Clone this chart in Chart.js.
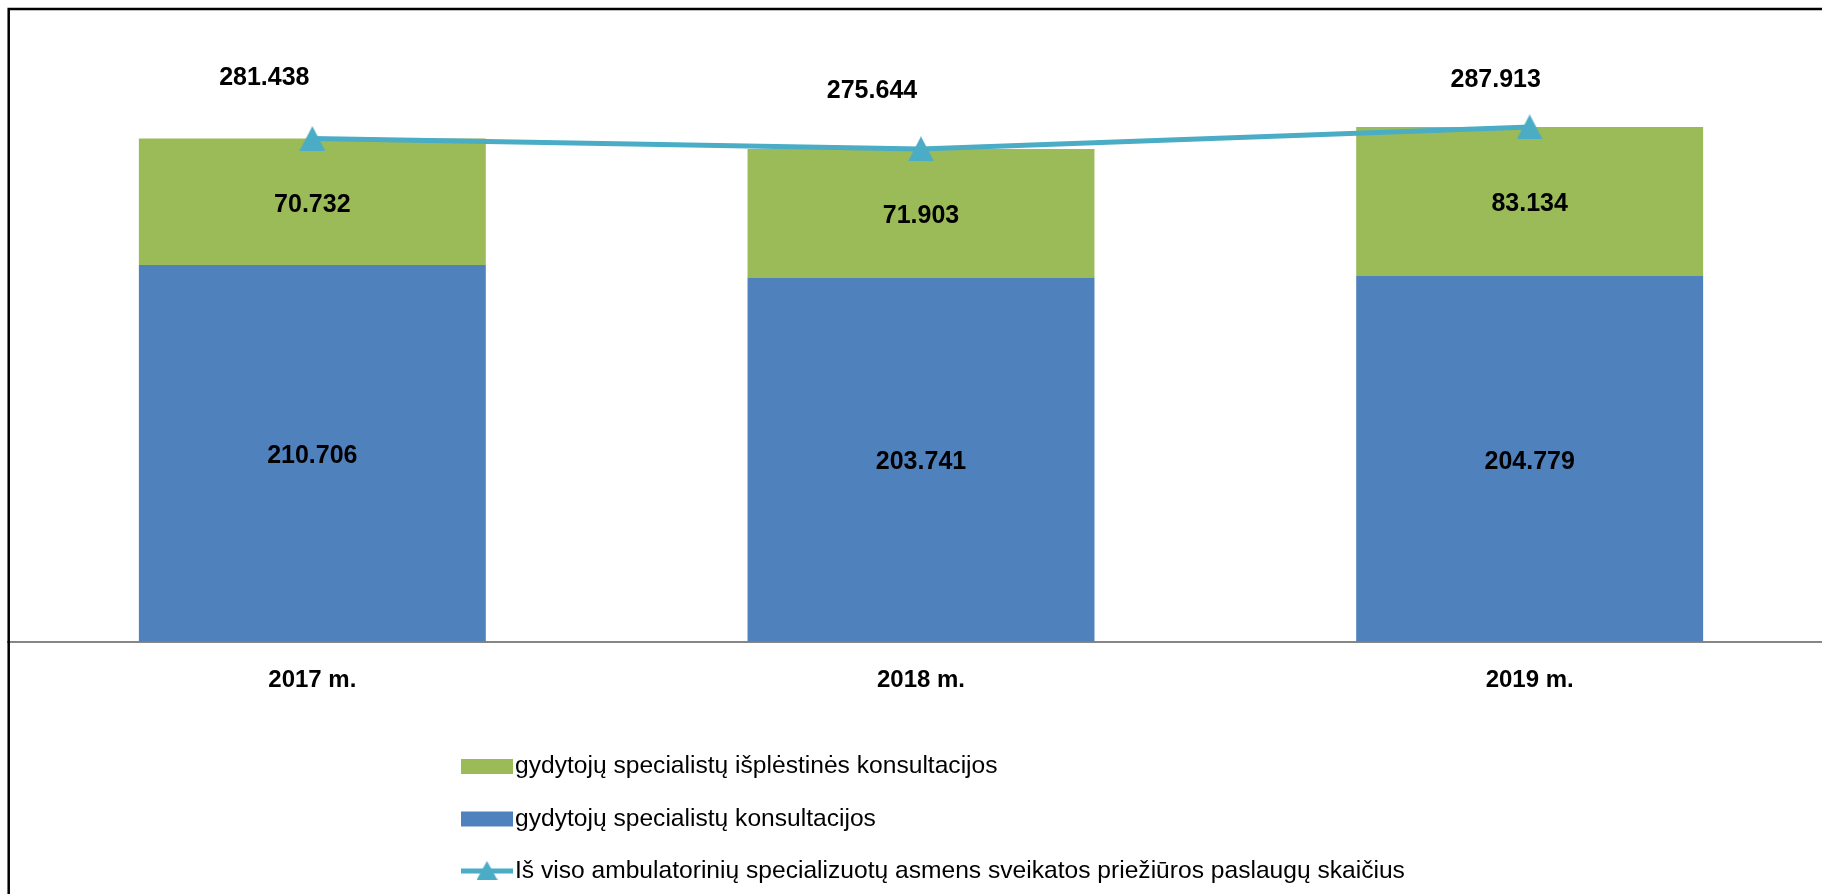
<!DOCTYPE html>
<html>
<head>
<meta charset="utf-8">
<script src="https://cdn.jsdelivr.net/npm/chart.js@4.4.1/dist/chart.umd.min.js"></script>
<style>
  html, body { margin: 0; padding: 0; background: #fff; overflow: hidden; }
  canvas { display: block; }
</style>
</head>
<body>
<canvas id="chart" width="1850" height="894"></canvas>
<script>
const years = ['2017 m.', '2018 m.', '2019 m.'];
const consultations = [210706, 203741, 204779];
const extendedConsultations = [70732, 71903, 83134];
const totalServices = [281438, 275644, 287913];

const consultationsLabel = 'gydytojų specialistų konsultacijos';
const extendedLabel = 'gydytojų specialistų išplėstinės konsultacijos';
const totalLabel = 'Iš viso ambulatorinių specializuotų asmens sveikatos priežiūros paslaugų skaičius';

const BLUE = '#4F81BD';
const GREEN = '#9BBB59';
const TEAL = '#4BACC6';
const FONT = '"Liberation Sans", Arial, sans-serif';

// the total labels were dragged by hand in the original, so each sits a bit differently
const totalLabelShift = [[-48, -60], [-49, -58], [-34, -47]];

// thousands with a dot, as in the source
function fmt(n) {
    return String(n).replace(/\B(?=(\d{3})+(?!\d))/g, '.');
}

function makeTriangle(color, w, h) {
    const c = document.createElement('canvas');
    c.width = w;
    c.height = h;
    const g = c.getContext('2d');
    g.fillStyle = color;
    g.beginPath();
    g.moveTo(w / 2, 0);
    g.lineTo(w, h);
    g.lineTo(0, h);
    g.closePath();
    g.fill();
    return c;
}

const triangle = makeTriangle(TEAL, 26, 25);
const smallTriangle = makeTriangle(TEAL, 21, 19);

const valueLabels = {
    id: 'valueLabels',
    afterDatasetsDraw(chart) {
        const ctx = chart.ctx;
        ctx.save();
        ctx.font = 'bold 25px ' + FONT;
        ctx.fillStyle = '#000';
        ctx.textAlign = 'center';
        ctx.textBaseline = 'middle';
        chart.data.datasets.forEach((ds, i) => {
            const meta = chart.getDatasetMeta(i);
            meta.data.forEach((el, j) => {
                const text = fmt(ds.data[j]);
                if (meta.type === 'bar') {
                    ctx.fillText(text, el.x, (el.y + el.base) / 2 + 3);
                } else {
                    const s = totalLabelShift[j];
                    ctx.fillText(text, el.x + s[0], el.y + s[1]);
                }
            });
        });
        ctx.restore();
    }
};

// vertical legend + outer frame
const sideBits = {
    id: 'sideBits',
    afterDraw(chart) {
        const ctx = chart.ctx;
        const ds = chart.data.datasets;
        const rows = [
            { d: ds[2], y: 766.5 },
            { d: ds[1], y: 819 },
            { d: ds[0], y: 871 }
        ];
        ctx.save();
        ctx.font = '24.6px ' + FONT;
        ctx.textBaseline = 'middle';
        rows.forEach(r => {
            if (r.d.type === 'line') {
                ctx.strokeStyle = r.d.borderColor;
                ctx.lineWidth = r.d.borderWidth;
                ctx.beginPath();
                ctx.moveTo(461, r.y);
                ctx.lineTo(513, r.y);
                ctx.stroke();
                ctx.drawImage(smallTriangle, 487 - 10.5, r.y - 10);
            } else {
                ctx.fillStyle = r.d.backgroundColor;
                ctx.fillRect(461, r.y - 7.5, 52, 15);
            }
            ctx.fillStyle = '#000';
            ctx.fillText(r.d.label, 515, r.y);
        });

        ctx.strokeStyle = '#000';
        ctx.lineWidth = 2.5;
        ctx.strokeRect(8.7, 9, 3000, 3000);
        ctx.restore();
    }
};

new Chart(document.getElementById('chart'), {
    data: {
        labels: years,
        datasets: [
            {
                type: 'line',
                label: totalLabel,
                data: totalServices,
                stack: 'total',
                order: 0,
                borderColor: TEAL,
                backgroundColor: TEAL,
                borderWidth: 5,
                tension: 0,
                pointStyle: triangle,
                pointRadius: 13
            },
            {
                type: 'bar',
                label: consultationsLabel,
                data: consultations,
                stack: 'bars',
                order: 1,
                backgroundColor: BLUE
            },
            {
                type: 'bar',
                label: extendedLabel,
                data: extendedConsultations,
                stack: 'bars',
                order: 1,
                backgroundColor: GREEN
            }
        ]
    },
    options: {
        responsive: false,
        animation: false,
        datasets: {
            bar: { categoryPercentage: 1, barPercentage: 0.57 }
        },
        layout: { autoPadding: false, padding: { left: 8, right: 16, top: 16, bottom: 175.5 } },
        plugins: {
            legend: { display: false },
            tooltip: { enabled: false }
        },
        scales: {
            x: {
                stacked: true,
                grid: { display: false, drawTicks: false },
                border: { color: '#868686', width: 2 },
                ticks: {
                    color: '#000',
                    padding: 24,
                    font: { family: FONT, size: 24, weight: 'bold' }
                }
            },
            y: {
                stacked: true,
                display: false,
                min: 0,
                max: 350000
            }
        }
    },
    plugins: [valueLabels, sideBits]
});
</script>
</body>
</html>
